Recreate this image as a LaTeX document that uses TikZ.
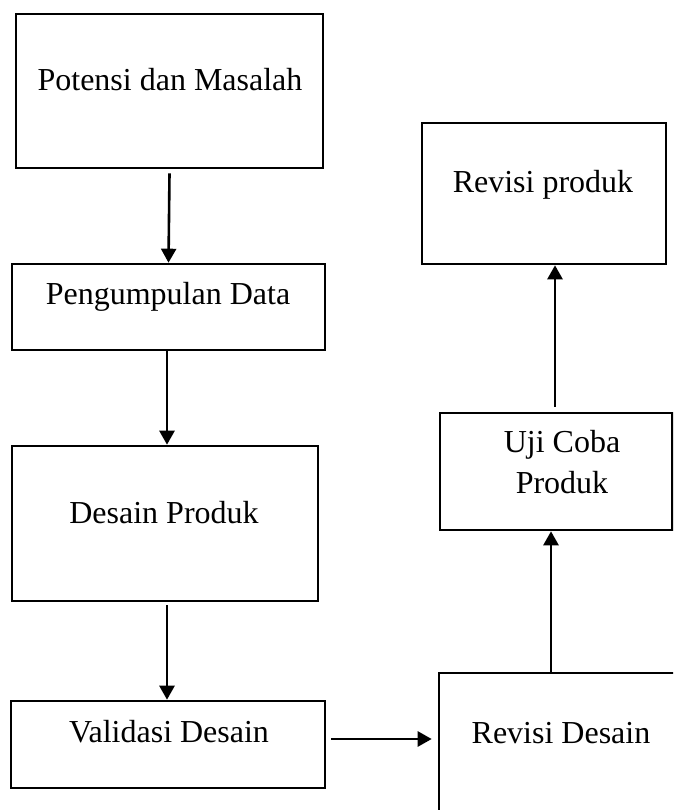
\documentclass[tikz,border=0pt]{standalone}
\usepackage{fontspec}
\setmainfont{Liberation Serif}
\usetikzlibrary{arrows.meta}
\begin{document}
\begin{tikzpicture}[x=1pt,y=-1pt,
  box/.style={draw=black, line width=2.6pt, rectangle, inner sep=0pt},
  lbl/.style={font=\fontsize{32}{41}\selectfont, inner sep=0pt, align=center, anchor=base},
  arr/.style={line width=2.6pt, -{Triangle[width=15pt,length=14pt]}}]
\useasboundingbox (0,0) rectangle (673,810);
\clip (0,0) rectangle (673,810);
\fill[white] (0,0) rectangle (673,810);
% boxes
\node[box, minimum width=307pt, minimum height=154pt] (A) at (169.5,91) {};
\node[box, minimum width=313pt, minimum height=86pt] (B) at (168.5,307) {};
\node[box, minimum width=306pt, minimum height=155pt] (C) at (165,523.5) {};
\node[box, minimum width=314pt, minimum height=87pt] (D) at (168,744.5) {};
\node[box, minimum width=261pt, minimum height=177pt] (E) at (569.5,761.5) {};
\node[box, minimum width=232.5pt, minimum height=117pt] (F) at (556.25,471.5) {};
\node[box, minimum width=244pt, minimum height=141pt] (G) at (544,193.5) {};
% labels
\node[lbl] (tA) at (170,91) {Potensi dan Masalah};
\node[lbl] (tB) at (168,304) {Pengumpulan Data};
\node[lbl] (tC) at (164,523) {Desain Produk};
\node[lbl] (tD) at (169,742) {Validasi Desain};
\node[lbl] (tE) at (561,743) {Revisi Desain};
\node[lbl] (tF) at (562,493) {Uji Coba\\Produk};
\node[lbl] (tG) at (543,193) {Revisi produk};
% connectors
\draw[arr] ([yshift=-4pt]A.south) -- (B.north);
\draw[arr] ([xshift=-1.5pt]B.south) -- ([xshift=2pt]C.north);
\draw[arr] ([xshift=2pt,yshift=-3pt]C.south) -- ([xshift=-1pt]D.north);
\draw[arr] ([xshift=5pt]D.east |- 0,739) -- ([xshift=-6pt]E.west |- 0,739);
\draw[arr] (E.north -| 551,0) -- (F.south -| 551,0);
\draw[arr] ([yshift=5pt]F.north -| 555,0) -- (G.south -| 555,0);
\end{tikzpicture}
\end{document}
